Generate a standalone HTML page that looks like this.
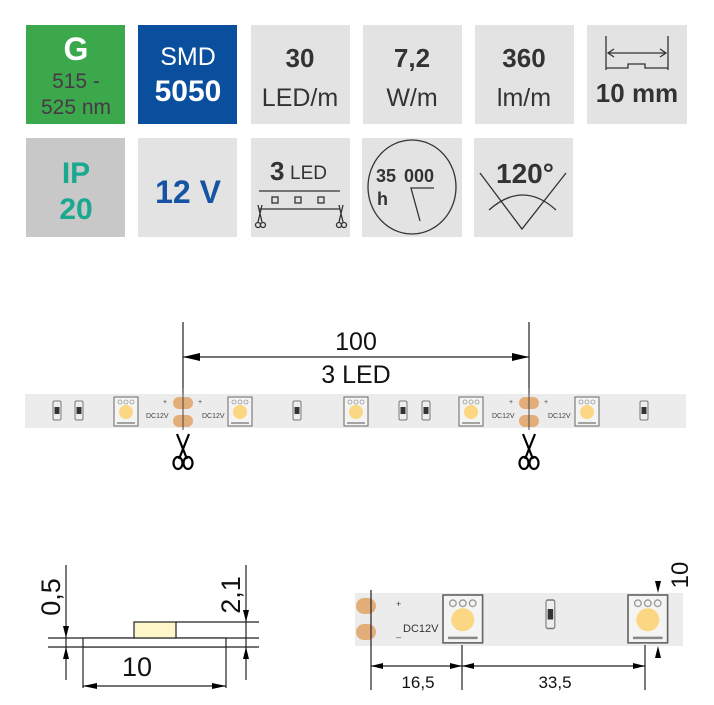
<!DOCTYPE html>
<html><head><meta charset="utf-8"><style>
html,body{margin:0;padding:0;background:#fff;}
svg{display:block;}
text{font-family:"Liberation Sans","DejaVu Sans",sans-serif;}
</style></head><body>
<svg width="714" height="705" viewBox="0 0 714 705" xmlns="http://www.w3.org/2000/svg">
<defs>
  <g id="led">
    <rect x="0" y="0" width="24" height="29" fill="#f4f4f2" stroke="#666" stroke-width="1"/>
    <circle cx="6" cy="5" r="2" fill="none" stroke="#999" stroke-width="0.8"/>
    <circle cx="12" cy="5" r="2" fill="none" stroke="#999" stroke-width="0.8"/>
    <circle cx="18" cy="5" r="2" fill="none" stroke="#999" stroke-width="0.8"/>
    <circle cx="12" cy="15" r="7" fill="#fbd683"/>
    <path d="M3 26 h18" stroke="#888" stroke-width="1.5"/>
  </g>
  <g id="res">
    <rect x="0" y="0" width="8" height="19" rx="1.5" fill="#eee" stroke="#777" stroke-width="1"/>
    <rect x="1.5" y="6" width="5" height="7" fill="#333"/>
  </g>
  <g id="pads">
    <rect x="-10" y="0" width="20" height="12" rx="6" fill="#e3ad7a"/>
    <rect x="-10" y="18" width="20" height="12" rx="6" fill="#e3ad7a"/>
  </g>
  <g id="scis" fill="none" stroke="#000" stroke-width="2.2">
    <path d="M-6 -18 L4 7 M6 -18 L-4 7"/>
    <ellipse cx="-5" cy="11" rx="4.5" ry="6"/>
    <ellipse cx="5" cy="11" rx="4.5" ry="6"/>
  </g>
</defs>

<!-- Row 1 tiles -->
<rect x="26" y="25" width="99" height="99" fill="#3ba84b"/>
<text x="76" y="60" font-size="32" font-weight="bold" fill="#fff" text-anchor="middle">G</text>
<text x="76" y="88" font-size="21" fill="#4a3848" text-anchor="middle">515 -</text>
<text x="76" y="114" font-size="21" fill="#4a3848" text-anchor="middle">525 nm</text>

<rect x="138" y="25" width="99" height="99" fill="#0a4f9e"/>
<text x="188" y="65" font-size="25" fill="#fff" text-anchor="middle">SMD</text>
<text x="188" y="101" font-size="30" font-weight="bold" fill="#fff" text-anchor="middle">5050</text>

<rect x="251" y="25" width="99" height="99" fill="#e3e3e3"/>
<text x="300" y="67" font-size="26" font-weight="bold" fill="#333" text-anchor="middle">30</text>
<text x="300" y="106" font-size="25" fill="#333" text-anchor="middle">LED/m</text>

<rect x="363" y="25" width="99" height="99" fill="#e3e3e3"/>
<text x="412" y="67" font-size="26" font-weight="bold" fill="#333" text-anchor="middle">7,2</text>
<text x="412" y="106" font-size="25" fill="#333" text-anchor="middle">W/m</text>

<rect x="475" y="25" width="99" height="99" fill="#e3e3e3"/>
<text x="524" y="67" font-size="26" font-weight="bold" fill="#333" text-anchor="middle">360</text>
<text x="524" y="106" font-size="25" fill="#333" text-anchor="middle">lm/m</text>

<rect x="587" y="25" width="100" height="99" fill="#e3e3e3"/>
<g stroke="#333" stroke-width="1.3" fill="none">
  <path d="M606 36 V70 M668 36 V70 M606 68 H628 V64 H645 V68 H668"/>
  <path d="M608 53 H666"/>
  <path d="M614 49 L608 53 L614 57 M660 49 L666 53 L660 57"/>
</g>
<text x="637" y="102" font-size="26" font-weight="bold" fill="#333" text-anchor="middle">10 mm</text>

<!-- Row 2 tiles -->
<rect x="26" y="138" width="99" height="99" fill="#c8c8c8"/>
<text x="76" y="183" font-size="30" font-weight="bold" fill="#1aa88f" text-anchor="middle">IP</text>
<text x="76" y="219" font-size="30" font-weight="bold" fill="#1aa88f" text-anchor="middle">20</text>

<rect x="138" y="138" width="99" height="99" fill="#e3e3e3"/>
<text x="188" y="203" font-size="32" font-weight="bold" fill="#1553a4" text-anchor="middle">12 V</text>

<rect x="251" y="138" width="99" height="99" fill="#e3e3e3"/>
<text x="270" y="180" font-size="26" font-weight="bold" fill="#333">3</text>
<text x="290" y="179" font-size="19" fill="#333">LED</text>
<g stroke="#333" stroke-width="1.3" fill="none">
  <path d="M259 191 H340 M259 209 H340"/>
  <rect x="272" y="197" width="6" height="6"/><rect x="295" y="197" width="6" height="6"/><rect x="318" y="197" width="6" height="6"/>
  <path d="M258 205 L262 222 M262 205 L258 222 M339 205 L343 222 M343 205 L339 222"/>
  <circle cx="258" cy="225" r="2.5"/><circle cx="263" cy="225" r="2.5"/>
  <circle cx="339" cy="225" r="2.5"/><circle cx="344" cy="225" r="2.5"/>
</g>

<rect x="362" y="138" width="100" height="99" fill="#e3e3e3"/>
<ellipse cx="412" cy="187" rx="44" ry="47" fill="none" stroke="#333" stroke-width="1.3"/>
<text x="376" y="182" font-size="18" font-weight="bold" fill="#333">35</text>
<text x="404" y="182" font-size="18" font-weight="bold" fill="#333">000</text>
<text x="377" y="205" font-size="18" font-weight="bold" fill="#333">h</text>
<path d="M434 188 H411 L420 221" fill="none" stroke="#333" stroke-width="1.3"/>

<rect x="474" y="138" width="99" height="99" fill="#e3e3e3"/>
<text x="525" y="183" font-size="28" font-weight="bold" fill="#333" text-anchor="middle">120°</text>
<g fill="none" stroke="#333" stroke-width="1.3">
  <path d="M480 173 L522 229 L566 173"/>
  <path d="M489 210 Q523 180 556 210"/>
</g>

<!-- Middle strip dimension -->
<g stroke="#222" stroke-width="1.2" fill="none">
  <path d="M183 322 V428 M529 322 V428"/>
  <path d="M183 357 H529"/>
</g>
<path d="M183 357 L200 353 L200 361 Z" fill="#000"/>
<path d="M529 357 L512 353 L512 361 Z" fill="#000"/>
<text x="356" y="350" font-size="25" fill="#111" text-anchor="middle">100</text>
<text x="356" y="383" font-size="25" fill="#111" text-anchor="middle">3 LED</text>

<rect x="25" y="394" width="661" height="34" fill="#ececec"/>
<use href="#pads" x="183" y="397"/>
<use href="#pads" x="529" y="397"/>
<path d="M183 388 V430 M529 388 V430" stroke="#444" stroke-width="1"/>
<use href="#led" x="114" y="397"/>
<use href="#led" x="228" y="397"/>
<use href="#led" x="344" y="397"/>
<use href="#led" x="459" y="397"/>
<use href="#led" x="575" y="397"/>
<use href="#res" x="53" y="401"/>
<use href="#res" x="75" y="401"/>
<use href="#res" x="293" y="401"/>
<use href="#res" x="399" y="401"/>
<use href="#res" x="422" y="401"/>
<use href="#res" x="640" y="401"/>
<g font-size="7" fill="#444">
  <text x="146" y="418">DC12V</text><text x="202" y="418">DC12V</text>
  <text x="492" y="418">DC12V</text><text x="548" y="418">DC12V</text>
  <text x="163" y="404">+</text><text x="198" y="404">+</text>
  <text x="509" y="404">+</text><text x="544" y="404">+</text>
</g>
<use href="#scis" x="183" y="452"/>
<use href="#scis" x="529" y="452"/>

<!-- Bottom-left cross section -->
<g stroke="#222" stroke-width="1.2" fill="none">
  <path d="M66 565 V680 M246 565 V680"/>
  <path d="M48 638 H259 M48 647 H259 M176 622 H259"/>
  <path d="M83 647 V688 M226 647 V688 M83 686 H226"/>
</g>
<rect x="83" y="638" width="143" height="9" fill="#fff" stroke="#222" stroke-width="1.2"/>
<rect x="134" y="622" width="42" height="16" fill="#fdf6c8" stroke="#222" stroke-width="1.2"/>
<g fill="#000">
  <path d="M66 638 L63 626 L69 626 Z"/><path d="M66 647 L63 659 L69 659 Z"/>
  <path d="M246 622 L243 610 L249 610 Z"/><path d="M246 647 L243 659 L249 659 Z"/>
  <path d="M83 686 L97 683 L97 689 Z"/><path d="M226 686 L212 683 L212 689 Z"/>
</g>
<text x="137" y="676" font-size="27" fill="#111" text-anchor="middle">10</text>
<text transform="translate(60 597) rotate(-90)" font-size="27" fill="#111" text-anchor="middle">0,5</text>
<text transform="translate(240 595) rotate(-90)" font-size="27" fill="#111" text-anchor="middle">2,1</text>

<!-- Bottom-right strip -->
<rect x="355" y="593" width="328" height="53" fill="#ececec"/>
<rect x="356" y="598" width="20" height="16" rx="8" fill="#e3ad7a"/>
<rect x="356" y="624" width="20" height="16" rx="8" fill="#e3ad7a"/>
<text x="396" y="607" font-size="9" fill="#444">+</text>
<text x="396" y="636" font-size="9" fill="#444">_</text>
<text x="403" y="632" font-size="11" fill="#333">DC12V</text>
<g transform="translate(443 595) scale(1.65)"><use href="#led"/></g>
<g transform="translate(628 595) scale(1.65)"><use href="#led"/></g>
<g transform="translate(546 600) scale(1.1 1.5)"><use href="#res"/></g>
<g stroke="#222" stroke-width="1.2" fill="none">
  <path d="M371 590 V690 M462 645 V690 M645 645 V690"/>
  <path d="M371 666 H645"/>
</g>
<g fill="#000">
  <path d="M371 666 L383 663 L383 669 Z"/><path d="M462 666 L450 663 L450 669 Z"/>
  <path d="M462 666 L474 663 L474 669 Z"/><path d="M645 666 L633 663 L633 669 Z"/>
  <path d="M658 593 L655 581 L661 581 Z"/><path d="M658 646 L655 658 L661 658 Z"/>
</g>
<text x="418" y="688" font-size="17" fill="#111" text-anchor="middle">16,5</text>
<text x="555" y="688" font-size="17" fill="#111" text-anchor="middle">33,5</text>
<text transform="translate(688 575) rotate(-90)" font-size="24" fill="#111" text-anchor="middle">10</text>
</svg>
</body></html>
